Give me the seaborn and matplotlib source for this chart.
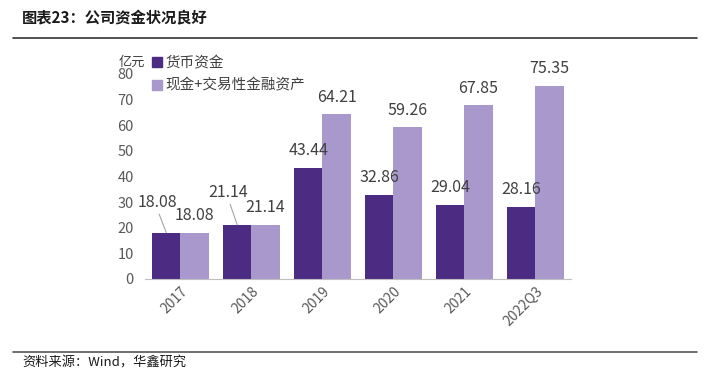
import pandas as pd
import seaborn as sns
import matplotlib.pyplot as plt
from matplotlib.lines import Line2D
from matplotlib.ticker import FixedLocator

years = ["2017", "2018", "2019", "2020", "2021", "2022Q3"]
cash = [18.08, 21.14, 43.44, 32.86, 29.04, 28.16]
cash_plus = [18.08, 21.14, 64.21, 59.26, 67.85, 75.35]
series = ["货币资金", "现金+交易性金融资产"]
palette = {"货币资金": "#4b2c82", "现金+交易性金融资产": "#a898cc"}

df = pd.DataFrame({
    "year": years * 2,
    "value": cash + cash_plus,
    "series": [series[0]] * len(years) + [series[1]] * len(years),
})

sns.set_style("white")
plt.rcParams["font.family"] = ["Noto Sans CJK SC", "DejaVu Sans"]

fig = plt.figure(figsize=(7.09, 3.75), dpi=100)
ax = fig.add_axes([0.2045, 0.256, 0.6005, 0.547])

sns.barplot(data=df, x="year", y="value", hue="series", palette=palette,
            width=0.8, saturation=1, linewidth=0, ax=ax, legend=False)

ax.set_ylim(0, 80)
ax.set_xlim(-0.5, 5.5)
ax.set_yticks(range(0, 81, 10))
ax.set_xlabel("")
ax.set_ylabel("")
for s in ["top", "right", "left"]:
    ax.spines[s].set_visible(False)
ax.spines["bottom"].set_color("#bfbfbf")
ax.tick_params(axis="y", length=0, labelsize=10.5, labelcolor="#595959", pad=8)
ax.tick_params(axis="x", which="major", length=0, labelsize=10, labelcolor="#595959", pad=4)
ax.xaxis.set_minor_locator(FixedLocator([i - 0.5 for i in range(len(years) + 1)]))
ax.tick_params(axis="x", which="minor", length=4, color="#bfbfbf")
for lab in ax.get_xticklabels():
    lab.set_rotation(45)
    lab.set_ha("right")
    lab.set_rotation_mode("anchor")

# value labels
lab_kw = dict(ha="center", va="bottom", fontsize=11.5, color="#404040")
off = 0.2
for i, (a, b) in enumerate(zip(cash, cash_plus)):
    if i == 0:
        ax.text(i - 0.33, a + 8.5, f"{a:.2f}", **lab_kw)
        ax.plot([i - 0.3, i - 0.2], [a + 7.2, a], color="#a6a6a6", lw=0.8)
        ax.text(i + off, b + 3.3, f"{b:.2f}", **lab_kw)
    elif i == 1:
        ax.text(i - 0.33, a + 9.2, f"{a:.2f}", **lab_kw)
        ax.plot([i - 0.3, i - 0.2], [a + 8.0, a], color="#a6a6a6", lw=0.8)
        ax.text(i + off, b + 3.3, f"{b:.2f}", **lab_kw)
    else:
        ax.text(i - off, a + 3.3, f"{a:.2f}", **lab_kw)
        ax.text(i + off, b + 3.3, f"{b:.2f}", **lab_kw)

# legend
handles = [Line2D([], [], marker="s", ls="", markersize=7, color=palette[s]) for s in series]
leg = fig.legend(handles, series, loc="upper left", bbox_to_anchor=(0.205, 0.865),
                 frameon=False, fontsize=10.5, handletextpad=0.2, labelspacing=0.55,
                 handlelength=0.8, borderaxespad=0)
for t in leg.get_texts():
    t.set_color("#404040")

fig.text(0.167, 0.835, "亿元", fontsize=9.5, color="#404040", ha="left", va="center")

# title and source
fig.text(0.031, 0.952, "图表23：公司资金状况良好", fontsize=11, fontweight="bold",
         ha="left", va="center", color="#1a1a1a")
fig.add_artist(Line2D([0.018, 0.983], [0.899, 0.899], color="#333333", lw=1.2))
fig.add_artist(Line2D([0.018, 0.983], [0.062, 0.062], color="#555555", lw=1.2))
fig.text(0.031, 0.033, "资料来源：Wind，华鑫研究", fontsize=9.5, ha="left", va="center",
         color="#1a1a1a")

fig.savefig("out.png", dpi=100)
